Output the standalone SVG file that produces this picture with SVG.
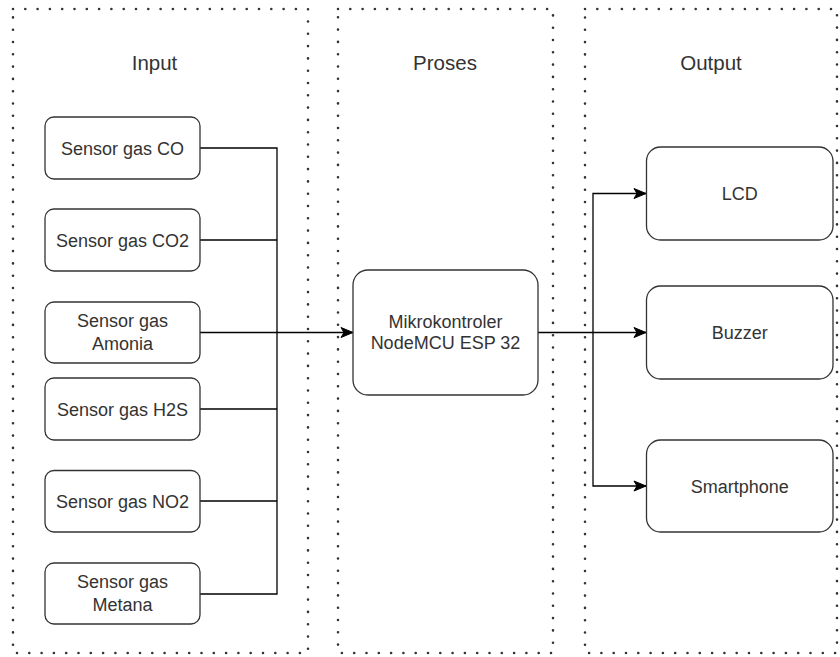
<svg xmlns="http://www.w3.org/2000/svg" width="840" height="657" viewBox="0 0 840 657">
<defs>
<marker id="arr" markerUnits="userSpaceOnUse" markerWidth="14" markerHeight="12" refX="12" refY="6" orient="auto" overflow="visible">
<path d="M0,1 L12,6 L0,11 L3,6 Z" fill="#000" stroke="#000" stroke-width="1"/>
</marker>
<style>
.cont{fill:none;stroke:#333;stroke-width:2.6;stroke-dasharray:0 12.3;stroke-linecap:round}
.box{fill:#fff;stroke:#333;stroke-width:1.3}
.t{font-family:"Liberation Sans",Arial,sans-serif;font-size:18px;fill:#333;text-anchor:middle}
.title{font-family:"Liberation Sans",Arial,sans-serif;font-size:20.5px;fill:#333;text-anchor:middle}
.ln{fill:none;stroke:#000;stroke-width:1.3}
</style>
</defs>
<rect width="840" height="657" fill="#fff"/>
<g id="containers">
<g id="input-container"><rect class="cont" x="13" y="9" width="295" height="644"/><text class="title" x="154.5" y="70">Input</text></g>
<g id="proses-container"><rect class="cont" x="338" y="9" width="215" height="644"/><text class="title" x="445" y="70">Proses</text></g>
<g id="output-container"><rect class="cont" x="585" y="9" width="252" height="644"/><text class="title" x="711" y="70">Output</text></g>
</g>
<g id="connectors">
<path class="ln" d="M200,148 H277 V594 H200"/>
<path class="ln" d="M200,240 H277"/>
<path class="ln" d="M200,409 H277"/>
<path class="ln" d="M200,501 H277"/>
<path class="ln" d="M200,332.5 H353" marker-end="url(#arr)"/>
<path class="ln" d="M538,332.5 H646" marker-end="url(#arr)"/>
<path class="ln" d="M593,332.5 V193.5 H646" marker-end="url(#arr)"/>
<path class="ln" d="M593,332.5 V486 H646" marker-end="url(#arr)"/>
</g>
<g id="sensor-co"><rect class="box" x="45" y="117" width="155" height="62" rx="9"/><text class="t" x="122.5" y="154.5">Sensor gas CO</text></g>
<g id="sensor-co2"><rect class="box" x="45" y="209" width="155" height="62" rx="9"/><text class="t" x="122.5" y="246.5">Sensor gas CO2</text></g>
<g id="sensor-amonia"><rect class="box" x="45" y="302" width="155" height="61" rx="9"/><text class="t" x="122.5" y="327">Sensor gas</text><text class="t" x="122.5" y="349.5">Amonia</text></g>
<g id="sensor-h2s"><rect class="box" x="45" y="378" width="155" height="62" rx="9"/><text class="t" x="122.5" y="415.5">Sensor gas H2S</text></g>
<g id="sensor-no2"><rect class="box" x="45" y="470.5" width="155" height="61.5" rx="9"/><text class="t" x="122.5" y="507.5">Sensor gas NO2</text></g>
<g id="sensor-metana"><rect class="box" x="45" y="563" width="155" height="61" rx="9"/><text class="t" x="122.5" y="588">Sensor gas</text><text class="t" x="122.5" y="610.5">Metana</text></g>
<g id="mikrokontroler"><rect class="box" x="353" y="270" width="185" height="125" rx="15"/><text class="t" x="445.5" y="327.5">Mikrokontroler</text><text class="t" x="445.5" y="348.5">NodeMCU ESP 32</text></g>
<g id="lcd"><rect class="box" x="646.5" y="147" width="186.5" height="93" rx="14"/><text class="t" x="739.7" y="200">LCD</text></g>
<g id="buzzer"><rect class="box" x="646.5" y="286" width="186.5" height="93" rx="14"/><text class="t" x="739.7" y="339">Buzzer</text></g>
<g id="smartphone"><rect class="box" x="646.5" y="440" width="186.5" height="92" rx="14"/><text class="t" x="739.7" y="492.5">Smartphone</text></g>
</svg>
